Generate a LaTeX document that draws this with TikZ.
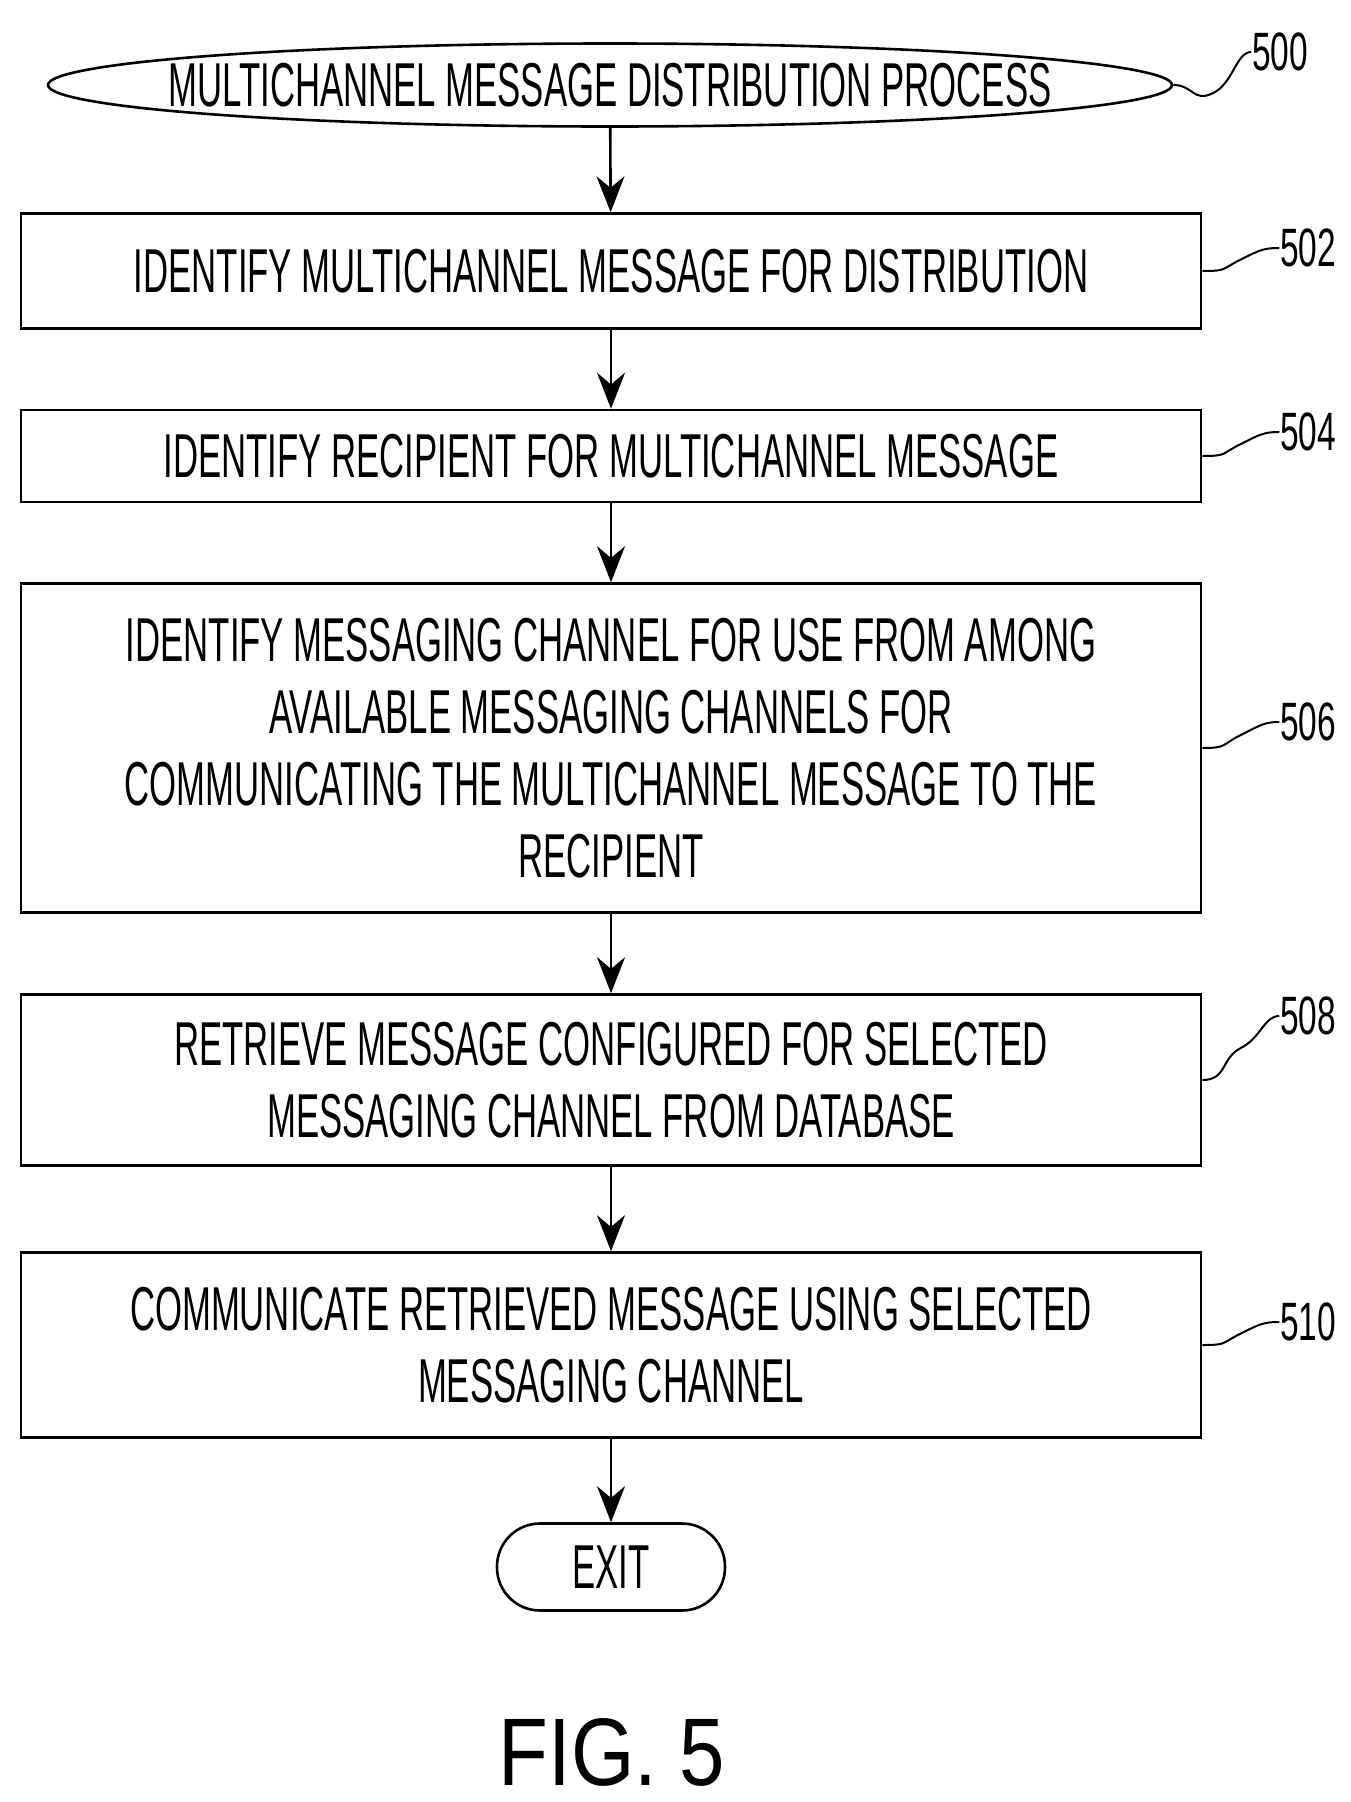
\documentclass[tikz,border=0pt]{standalone}
\usepackage{fontspec}
\setmainfont{Liberation Sans}
\usetikzlibrary{arrows.meta,shapes.geometric,calc}
\begin{document}
\begin{tikzpicture}[x=1pt,y=1pt,line width=2.6pt,
 box/.style={draw,rectangle,minimum width=1180pt,inner sep=0pt},
 txt/.style={xscale=0.56,transform shape,align=center,inner sep=0pt,font=\fontsize{62}{72}\selectfont},
 lab/.style={xscale=0.62,transform shape,inner sep=0pt,font=\fontsize{54}{60}\selectfont},
 arr/.style={-{Stealth[length=36pt,width=28pt]}},
 lead/.style={line width=2pt}]
\useasboundingbox (0,0) rectangle (1351,-1802);
\node[draw,ellipse,minimum width=1124pt,minimum height=83pt,inner sep=0pt] (s) at (610,-85) {};
\node[txt] (st) at (610,-85) {MULTICHANNEL MESSAGE DISTRIBUTION PROCESS};
\node[box,minimum height=115pt] (b2) at (611,-271) {};
\node[txt] at (b2) {IDENTIFY MULTICHANNEL MESSAGE FOR DISTRIBUTION};
\node[box,minimum height=92pt] (b4) at (611,-456) {};
\node[txt] at (b4) {IDENTIFY RECIPIENT FOR MULTICHANNEL MESSAGE};
\node[box,minimum height=329pt] (b6) at (611,-748) {};
\node[txt] at (b6) {IDENTIFY MESSAGING CHANNEL FOR USE FROM AMONG\\AVAILABLE MESSAGING CHANNELS FOR\\COMMUNICATING THE MULTICHANNEL MESSAGE TO THE\\RECIPIENT};
\node[box,minimum height=171pt] (b8) at (611,-1080) {};
\node[txt] at (b8) {RETRIEVE MESSAGE CONFIGURED FOR SELECTED\\MESSAGING CHANNEL FROM DATABASE};
\node[box,minimum height=185pt] (b10) at (611,-1345) {};
\node[txt] at (b10) {COMMUNICATE RETRIEVED MESSAGE USING SELECTED\\MESSAGING CHANNEL};
\node[draw,rectangle,rounded corners=43pt,minimum width=228pt,minimum height=87pt,inner sep=0pt] (ex) at (611,-1567) {};
\node[txt] at (ex) {EXIT};
\draw[arr] (s) -- (b2);
\draw[arr] (b2) -- (b4);
\draw[arr] (b4) -- (b6);
\draw[arr] (b6) -- (b8);
\draw[arr] (b8) -- (b10);
\draw[arr] (b10) -- (ex);
\node[lab] (l0) at (1280,-52) {500};
\node[lab] (l2) at (1308,-248) {502};
\node[lab] (l4) at (1308,-432) {504};
\node[lab] (l6) at (1308,-722) {506};
\node[lab] (l8) at (1308,-1016) {508};
\node[lab] (l10) at (1308,-1322) {510};
\draw[lead] (s.east) .. controls +(20,0) and +(-20,-10) .. ++(40,-8) .. controls +(20,10) and +(-15,0) .. (l0.west);
\foreach \b/\l in {b2/l2,b4/l4,b6/l6,b8/l8,b10/l10}{
 \draw[lead] (\b.east) .. controls +(25,0) and +(-20,-10) .. ($(\b.east)!0.5!(\l.west)$) .. controls +(20,10) and +(-15,0) .. (\l.west);
}
\node[inner sep=0pt,font=\fontsize{96}{100}\selectfont,xscale=0.85,transform shape] (fig) at (612,-1752) {FIG. 5};
\end{tikzpicture}
\end{document}
